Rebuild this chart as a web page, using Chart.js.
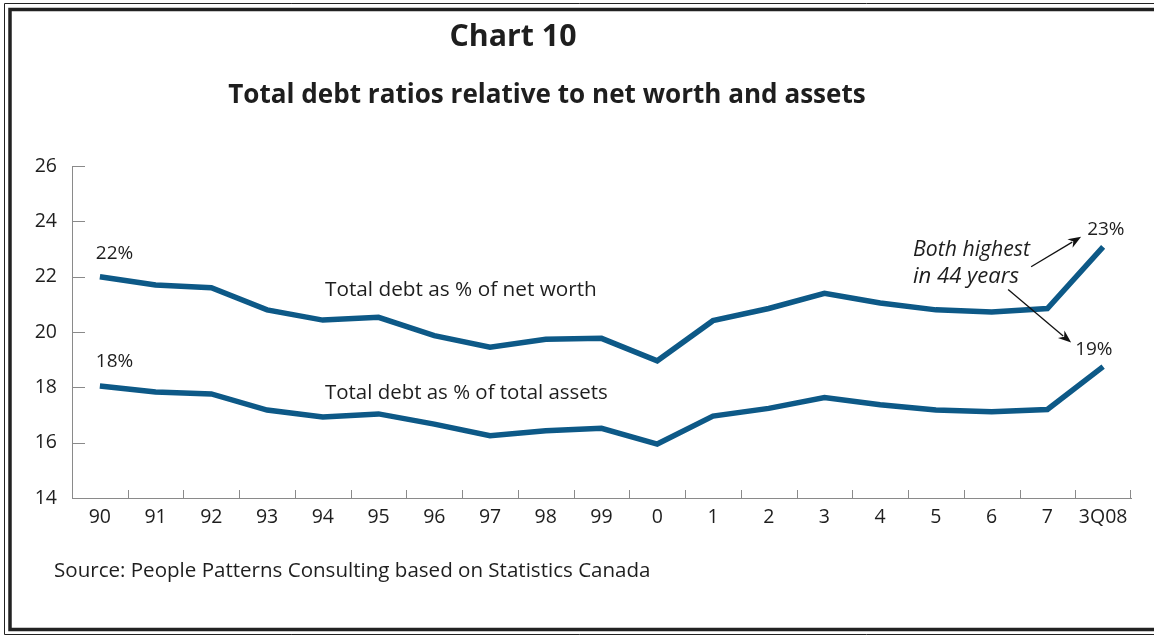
<!DOCTYPE html>
<html>
<head>
<meta charset="utf-8">
<script src="https://cdn.jsdelivr.net/npm/chart.js@4.4.1/dist/chart.umd.min.js"></script>
<style>
  html, body { margin: 0; padding: 0; background: #fff; }
  #wrap { position: relative; width: 1154px; height: 638px; }
</style>
</head>
<body>
<div id="wrap"><canvas id="debtChart"></canvas></div>
<script>
// years on the x axis
var years = ['90', '91', '92', '93', '94', '95', '96', '97', '98', '99',
             '0', '1', '2', '3', '4', '5', '6', '7', '3Q08'];
// total debt as % of net worth
var debtToNetWorth = [22.0, 21.7, 21.6, 20.8, 20.43, 20.53, 19.87, 19.45, 19.74, 19.77,
                      18.96, 20.41, 20.85, 21.4, 21.05, 20.8, 20.72, 20.85, 23.08];
// total debt as % of total assets
var debtToAssets = [18.05, 17.83, 17.76, 17.18, 16.93, 17.04, 16.67, 16.25, 16.43, 16.52,
                    15.95, 16.96, 17.24, 17.63, 17.37, 17.18, 17.12, 17.2, 18.75];
var yTicks = [14, 16, 18, 20, 22, 24, 26];

var FONT = '"Open Sans", Lato, sans-serif';
var LINE_COLOR = '#0d5987';
var TEXT_COLOR = '#1e1e1e';

// draws a line of text; opts.fit squeezes/stretches the font size to a given width
function text(ctx, str, x, y, size, opts) {
    opts = opts || {};
    ctx.save();
    var font = function (s) {
        return (opts.style || 'normal') + ' ' + (opts.weight || 'normal') + ' ' + s + 'px ' + FONT;
    };
    ctx.font = font(size);
    if (opts.fit) {
        size = size * opts.fit / ctx.measureText(str).width;
        ctx.font = font(size);
    }
    ctx.fillStyle = TEXT_COLOR;
    ctx.textAlign = opts.align || 'left';
    ctx.textBaseline = 'middle';
    ctx.fillText(str, x, y);
    ctx.restore();
}

function arrow(ctx, x1, y1, x2, y2) {
    var ang = Math.atan2(y2 - y1, x2 - x1);
    var len = 13, half = 5;
    ctx.save();
    ctx.strokeStyle = '#111';
    ctx.fillStyle = '#111';
    ctx.lineWidth = 1.3;
    ctx.beginPath();
    ctx.moveTo(x1, y1);
    ctx.lineTo(x2 - Math.cos(ang) * len * 0.8, y2 - Math.sin(ang) * len * 0.8);
    ctx.stroke();
    ctx.beginPath();
    ctx.moveTo(x2, y2);
    ctx.lineTo(x2 - Math.cos(ang) * len - Math.sin(ang) * half, y2 - Math.sin(ang) * len + Math.cos(ang) * half);
    ctx.lineTo(x2 - Math.cos(ang) * len * 0.7, y2 - Math.sin(ang) * len * 0.7);
    ctx.lineTo(x2 - Math.cos(ang) * len + Math.sin(ang) * half, y2 - Math.sin(ang) * len - Math.cos(ang) * half);
    ctx.closePath();
    ctx.fill();
    ctx.restore();
}

// frame, titles, inward tick marks and annotations
var decorations = {
    id: 'decorations',
    beforeDraw: function (chart) {
        var ctx = chart.ctx;
        ctx.save();
        ctx.fillStyle = '#fff';
        ctx.fillRect(0, 0, chart.width, chart.height);
        // double frame, open on the right
        ctx.strokeStyle = '#222';
        ctx.lineWidth = 1;
        ctx.beginPath();
        ctx.moveTo(1154, 3.5); ctx.lineTo(4.5, 3.5); ctx.lineTo(4.5, 634.5); ctx.lineTo(1154, 634.5);
        ctx.stroke();
        ctx.lineWidth = 3.5;
        ctx.beginPath();
        ctx.moveTo(1154, 9.5); ctx.lineTo(10, 9.5); ctx.lineTo(10, 629.5); ctx.lineTo(1154, 629.5);
        ctx.stroke();
        ctx.restore();
    },
    afterDraw: function (chart) {
        var ctx = chart.ctx;
        var xs = chart.scales.x, ys = chart.scales.y;
        var area = chart.chartArea;

        text(ctx, 'Chart 10', 513, 37, 30, { weight: 'bold', align: 'center', fit: 127 });
        text(ctx, 'Total debt ratios relative to net worth and assets', 547, 96, 24, { weight: 'bold', align: 'center', fit: 638 });
        text(ctx, 'Source: People Patterns Consulting based on Statistics Canada', 54, 571, 18, { fit: 597 });

        // tick marks pointing into the plot
        ctx.save();
        ctx.strokeStyle = '#8a8a8a';
        ctx.lineWidth = 1;
        ctx.beginPath();
        yTicks.forEach(function (v) {
            var py = Math.round(ys.getPixelForValue(v)) + 0.5;
            ctx.moveTo(area.left, py);
            ctx.lineTo(area.left + 13, py);
        });
        for (var i = 0; i < years.length; i++) {
            var bx = (i + 1 < years.length)
                ? Math.round((xs.getPixelForValue(i) + xs.getPixelForValue(i + 1)) / 2) + 0.5
                : Math.round(area.right) - 0.5;
            ctx.moveTo(bx, area.bottom);
            ctx.lineTo(bx, area.bottom - 8);
        }
        ctx.stroke();
        ctx.restore();

        // value labels at the ends of each line
        var n = years.length - 1;
        var fx = xs.getPixelForValue(0);
        var lx = xs.getPixelForValue(n);
        text(ctx, Math.round(debtToNetWorth[0]) + '%', fx - 4, ys.getPixelForValue(debtToNetWorth[0]) - 23, 19);
        text(ctx, Math.round(debtToAssets[0]) + '%', fx - 4, ys.getPixelForValue(debtToAssets[0]) - 24, 19);
        var ny = ys.getPixelForValue(debtToNetWorth[n]);
        var ay = ys.getPixelForValue(debtToAssets[n]);
        text(ctx, Math.round(debtToNetWorth[n]) + '%', lx - 16, ny - 17, 19);
        text(ctx, Math.round(debtToAssets[n]) + '%', lx - 28, ay - 17, 19);

        // series names
        text(ctx, 'Total debt as % of net worth', 325, 290, 18, { fit: 272 });
        text(ctx, 'Total debt as % of total assets', 325, 393, 18, { fit: 283 });

        // note with arrows
        text(ctx, 'Both highest', 913, 250, 18, { style: 'italic', fit: 117 });
        text(ctx, 'in 44 years', 913, 277, 18, { style: 'italic', fit: 106 });
        arrow(ctx, lx - 72, ny + 20, lx - 22, ny - 10);
        arrow(ctx, lx - 95, ay - 77, lx - 32, ay - 24);
    }
};

var ctx = document.getElementById('debtChart').getContext('2d');
var debtChart = new Chart(ctx, {
    type: 'line',
    data: {
        labels: years,
        datasets: [{
            label: 'Total debt as % of net worth',
            data: debtToNetWorth,
            borderColor: LINE_COLOR,
            borderWidth: 5.5,
            pointRadius: 0,
            tension: 0,
            fill: false
        }, {
            label: 'Total debt as % of total assets',
            data: debtToAssets,
            borderColor: LINE_COLOR,
            borderWidth: 5.5,
            pointRadius: 0,
            tension: 0,
            fill: false
        }]
    },
    options: {
        responsive: true,
        maintainAspectRatio: false,
        animation: false,
        layout: { padding: { top: 166, right: 23, bottom: 0, left: 0 } },
        plugins: {
            legend: { display: false },
            tooltip: { enabled: false }
        },
        scales: {
            x: {
                offset: true,
                grid: { display: false, drawTicks: false },
                border: { display: true, color: '#8a8a8a', width: 1 },
                ticks: {
                    color: TEXT_COLOR,
                    font: { family: FONT, size: 19.5 },
                    padding: 8,
                    maxRotation: 0,
                    autoSkip: false
                },
                afterFit: function (scale) { scale.height = 140; }
            },
            y: {
                min: 14,
                max: 26,
                grid: { display: false, drawTicks: false },
                border: { display: true, color: '#8a8a8a', width: 1 },
                ticks: {
                    stepSize: 2,
                    color: TEXT_COLOR,
                    font: { family: FONT, size: 19.5 },
                    padding: 15
                },
                afterFit: function (scale) { scale.width = 72; }
            }
        }
    },
    plugins: [decorations]
});
</script>
</body>
</html>
